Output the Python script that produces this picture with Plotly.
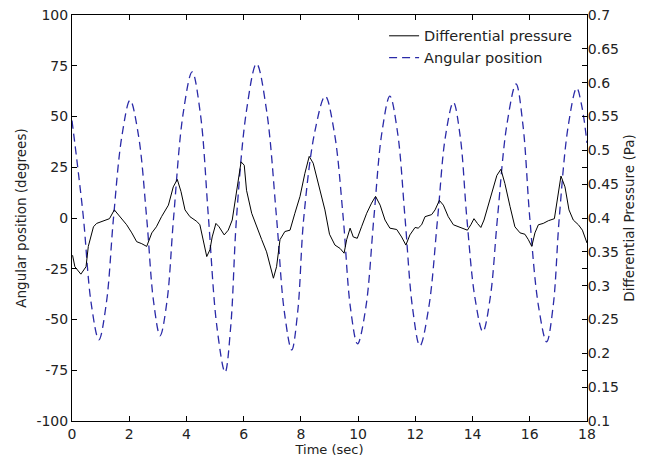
import plotly.graph_objects as go

# ---- data ----
# Differential pressure (Pa), right axis
t_pressure = [0.02, 0.10, 0.31, 0.49, 0.57, 0.75, 0.86, 1.09, 1.31, 1.48, 1.68, 1.91, 2.09, 2.26, 2.44,
              2.61, 2.79, 2.95, 3.13, 3.37, 3.54, 3.68, 3.81, 3.95, 4.12, 4.36, 4.47, 4.59, 4.71, 4.82,
              4.90, 5.03, 5.14, 5.32, 5.46, 5.60, 5.76, 5.91, 6.02, 6.10, 6.28, 6.45, 6.63, 6.80, 6.94,
              7.04, 7.15, 7.27, 7.44, 7.62, 7.79, 7.97, 8.14, 8.29, 8.43, 8.61, 8.78, 8.84, 9.00, 9.19,
              9.37, 9.51, 9.60, 9.72, 9.83, 9.97, 10.12, 10.30, 10.47, 10.61, 10.77, 10.94, 11.11, 11.35,
              11.52, 11.67, 11.81, 11.99, 12.10, 12.22, 12.34, 12.45, 12.57, 12.69, 12.84, 12.98, 13.15,
              13.33, 13.50, 13.68, 13.82, 13.94, 14.05, 14.17, 14.29, 14.40, 14.55, 14.73, 14.85, 14.99,
              15.13, 15.31, 15.48, 15.66, 15.83, 15.95, 16.07, 16.18, 16.30, 16.47, 16.65, 16.86, 16.98,
              17.09, 17.23, 17.37, 17.52, 17.70, 17.84, 18.00]
pressure = [0.345, 0.328, 0.317, 0.328, 0.358, 0.387, 0.392, 0.395, 0.399, 0.412, 0.402, 0.390, 0.378, 0.365, 0.362,
            0.358, 0.378, 0.387, 0.402, 0.419, 0.446, 0.457, 0.439, 0.412, 0.402, 0.395, 0.390, 0.368, 0.343, 0.353,
            0.372, 0.392, 0.387, 0.375, 0.382, 0.397, 0.441, 0.483, 0.478, 0.441, 0.407, 0.387, 0.368, 0.350, 0.328,
            0.311, 0.328, 0.368, 0.380, 0.382, 0.407, 0.432, 0.466, 0.491, 0.481, 0.451, 0.422, 0.412, 0.376, 0.360,
            0.355, 0.348, 0.368, 0.385, 0.372, 0.370, 0.387, 0.407, 0.422, 0.432, 0.419, 0.397, 0.385, 0.383,
            0.372, 0.360, 0.375, 0.386, 0.385, 0.390, 0.402, 0.403, 0.405, 0.412, 0.426, 0.419, 0.402,
            0.390, 0.387, 0.385, 0.382, 0.390, 0.399, 0.392, 0.386, 0.397, 0.419, 0.446, 0.463, 0.472,
            0.451, 0.417, 0.387, 0.378, 0.376, 0.368, 0.358, 0.378, 0.390, 0.392, 0.396, 0.399, 0.432,
            0.462, 0.446, 0.412, 0.397, 0.390, 0.382, 0.363]

# Angular position (degrees), left axis
t_angle = [0.00, 0.20, 0.40, 0.67, 0.94, 1.20, 1.45, 1.74, 2.03, 2.32, 2.61, 2.85, 3.08, 3.32, 3.55,
           3.88, 4.20, 4.49, 4.77, 5.06, 5.35, 5.55, 5.75, 6.10, 6.45, 6.80, 7.15, 7.42, 7.68, 7.89,
           8.10, 8.48, 8.85, 9.17, 9.48, 9.73, 9.98, 10.27, 10.55, 10.83, 11.11, 11.38, 11.64, 11.90,
           12.16, 12.47, 12.78, 13.05, 13.33, 13.57, 13.80, 14.08, 14.36, 14.62, 14.87, 15.20, 15.52,
           15.76, 16.00, 16.30, 16.59, 16.82, 17.03, 17.34, 17.64, 17.82, 18.00]
angle = [48, 25, 0, -42, -60, -42, 0, 40, 58, 41, 0, -41, -58, -41, 0,
         51, 72, 51, 0, -53, -76, -53, 0, 53, 76, 53, 0, -46, -65, -46,
         0, 42, 60, 42, 0, -44, -62, -44, 0, 42, 60, 42, 0, -44,
         -63, -44, 0, 40, 57, 40, 0, -39, -56, -39, 0, 46, 66,
         46, 0, -43, -61, -43, 0, 45, 64, 55, 37]

x_ticks = [0, 2, 4, 6, 8, 10, 12, 14, 16, 18]
left_ticks = [-100, -75, -50, -25, 0, 25, 50, 75, 100]
left_labels = ["-100", "-75", "-50", "-25", "0", "25", "50", "75", "100"]
right_ticks = [0.1, 0.15, 0.2, 0.25, 0.3, 0.35, 0.4, 0.45, 0.5, 0.55, 0.6, 0.65, 0.7]
right_labels = ["0.1", "0.15", "0.2", "0.25", "0.3", "0.35", "0.4", "0.45", "0.5", "0.55", "0.6", "0.65", "0.7"]

FONT = "DejaVu Sans, Liberation Sans, sans-serif"
TXT = "#222222"

fig = go.Figure()
fig.add_trace(go.Scatter(x=t_pressure, y=pressure, yaxis="y2", mode="lines",
                         name="Differential pressure",
                         line=dict(color="black", width=1)))
fig.add_trace(go.Scatter(x=t_angle, y=angle, yaxis="y", mode="lines",
                         name="Angular position",
                         line=dict(color="#2a2aa8", width=1.3, dash="8px,5px", shape="spline", smoothing=1.0)))

axis_common = dict(showgrid=False, zeroline=False, showline=True, linecolor="black", linewidth=1,
                   ticks="inside", ticklen=5, tickcolor="black", automargin=False,
                   ticklabeloverflow="allow",
                   tickfont=dict(family=FONT, size=14, color=TXT))

# the page body adds an 8px offset, so the figure is sized to fit the window
fig.update_layout(
    width=646, height=457,
    margin=dict(l=64, r=67, t=7, b=44),
    paper_bgcolor="white", plot_bgcolor="white",
    showlegend=True,
    legend=dict(x=0.606, y=0.988, xanchor="left", yanchor="top", bgcolor="rgba(0,0,0,0)",
                font=dict(family=FONT, size=14.5, color=TXT), tracegroupgap=0),
    xaxis=dict(range=[0, 18], tickvals=x_ticks, mirror="ticks",
               title=dict(text="Time (sec)", font=dict(family=FONT, size=13, color=TXT), standoff=2),
               **axis_common),
    yaxis=dict(range=[-100, 100], tickvals=left_ticks, ticktext=left_labels, mirror="ticks",
               ticklabelstandoff=0,
               title=dict(text="Angular position (degrees)", font=dict(family=FONT, size=13.5, color=TXT), standoff=6),
               **axis_common),
    yaxis2=dict(range=[0.1, 0.7], tickvals=right_ticks, ticktext=right_labels, overlaying="y", side="right",
                ticklabelstandoff=-3,
                title=dict(text="Differential Pressure (Pa)", font=dict(family=FONT, size=13.5, color=TXT), standoff=6),
                **axis_common),
)

fig.write_html("out.html")
